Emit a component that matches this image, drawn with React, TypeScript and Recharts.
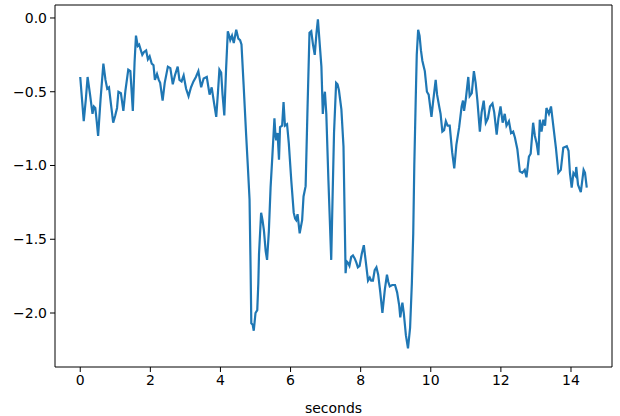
import React from 'react';
import { LineChart, Line, XAxis, YAxis, Label, ReferenceLine } from 'recharts';

// time axis (seconds) and the signal
const seconds = [
  0.0, 0.05, 0.1, 0.16, 0.21, 0.28, 0.35, 0.39, 0.43, 0.47, 0.51, 0.58, 0.66, 0.72, 0.77, 0.82, 0.88, 0.94,
  1.0, 1.05, 1.09, 1.16, 1.23, 1.29, 1.37, 1.43, 1.5, 1.55, 1.59, 1.64, 1.68, 1.73, 1.77, 1.82, 1.88, 1.93, 1.98,
  2.04, 2.09, 2.13, 2.19, 2.24, 2.28, 2.35, 2.41, 2.5, 2.57, 2.64, 2.7, 2.78, 2.83, 2.89, 2.95,
  3.02, 3.09, 3.16, 3.23, 3.3, 3.37, 3.45, 3.52, 3.61, 3.69, 3.75, 3.82, 3.88, 3.93, 3.97,
  4.02, 4.06, 4.11, 4.16, 4.21, 4.25, 4.28, 4.33, 4.38, 4.45, 4.51, 4.56, 4.6, 4.66, 4.73, 4.78, 4.83, 4.86, 4.88, 4.92, 4.95,
  5.0, 5.05, 5.08, 5.1, 5.16, 5.2, 5.24, 5.29, 5.33, 5.38, 5.43, 5.48, 5.54, 5.57, 5.59, 5.63, 5.67, 5.7, 5.76, 5.8, 5.84, 5.9, 5.95,
  6.02, 6.09, 6.13, 6.16, 6.2, 6.26, 6.33, 6.37, 6.43, 6.48, 6.54, 6.59, 6.64, 6.69, 6.74, 6.78, 6.83, 6.88, 6.92, 6.95, 6.98,
  7.02, 7.08, 7.16, 7.2, 7.24, 7.3, 7.34, 7.38, 7.45, 7.51, 7.54, 7.57, 7.6, 7.64, 7.68, 7.73, 7.78, 7.83, 7.88, 7.92, 7.97,
  8.03, 8.09, 8.14, 8.21, 8.26, 8.3, 8.35, 8.4, 8.45, 8.5, 8.56, 8.62, 8.69, 8.75, 8.79, 8.83, 8.9, 8.98,
  9.04, 9.1, 9.13, 9.19, 9.23, 9.29, 9.35, 9.41, 9.46, 9.5, 9.53, 9.57, 9.6, 9.64, 9.68, 9.72, 9.76, 9.8, 9.83, 9.89, 9.94,
  10.02, 10.07, 10.14, 10.18, 10.24, 10.28, 10.33, 10.38, 10.43, 10.48, 10.54, 10.61, 10.67, 10.73, 10.81, 10.88, 10.92, 10.95,
  11.0, 11.07, 11.11, 11.17, 11.23, 11.28, 11.33, 11.4, 11.45, 11.51, 11.57, 11.63, 11.69, 11.76, 11.81, 11.88, 11.93, 11.99,
  12.05, 12.11, 12.16, 12.23, 12.29, 12.35, 12.4, 12.47, 12.54, 12.61, 12.68, 12.73, 12.8, 12.85, 12.92, 12.97,
  13.02, 13.07, 13.11, 13.16, 13.21, 13.26, 13.3, 13.37, 13.43, 13.5, 13.57, 13.64, 13.71, 13.78, 13.88, 13.93, 13.97,
  14.02, 14.07, 14.13, 14.15, 14.2, 14.28, 14.36, 14.4, 14.45,
];

const signal = [
  -0.4, -0.55, -0.7, -0.55, -0.4, -0.52, -0.65, -0.6, -0.61, -0.7, -0.8, -0.55, -0.31, -0.42, -0.48, -0.47, -0.59, -0.71,
  -0.66, -0.61, -0.5, -0.51, -0.63, -0.49, -0.35, -0.36, -0.63, -0.3, -0.12, -0.19, -0.18, -0.22, -0.25, -0.23, -0.22, -0.28, -0.26,
  -0.31, -0.32, -0.42, -0.38, -0.42, -0.44, -0.56, -0.44, -0.33, -0.34, -0.45, -0.39, -0.33, -0.42, -0.43, -0.39,
  -0.48, -0.53, -0.47, -0.43, -0.4, -0.36, -0.47, -0.41, -0.4, -0.52, -0.47, -0.58, -0.67, -0.5, -0.35,
  -0.37, -0.52, -0.66, -0.35, -0.09, -0.12, -0.15, -0.12, -0.17, -0.08, -0.14, -0.15, -0.18, -0.45, -0.78, -1.0, -1.23, -1.7, -2.07, -2.08, -2.12,
  -2.0, -1.98, -1.8, -1.6, -1.32, -1.37, -1.44, -1.58, -1.64, -1.45, -1.15, -0.94, -0.68, -0.8, -0.83, -0.78, -0.96, -0.74, -0.73, -0.57, -0.73, -0.72, -0.85,
  -1.1, -1.32, -1.36, -1.37, -1.33, -1.46, -1.37, -1.21, -1.14, -0.65, -0.1, -0.09, -0.18, -0.25, -0.1, -0.01, -0.17, -0.33, -0.65, -0.55, -0.5,
  -0.65, -1.1, -1.64, -1.2, -0.78, -0.44, -0.45, -0.49, -0.62, -0.87, -1.3, -1.73, -1.65, -1.66, -1.68, -1.62, -1.61, -1.63, -1.66, -1.69, -1.68,
  -1.6, -1.54, -1.64, -1.78, -1.76, -1.78, -1.78, -1.71, -1.69, -1.74, -1.86, -2.0, -1.84, -1.74, -1.79, -1.82, -1.81, -1.81,
  -1.86, -1.95, -2.03, -1.93, -2.0, -2.15, -2.24, -2.1, -1.8, -1.46, -1.0, -0.56, -0.25, -0.08, -0.12, -0.22, -0.29, -0.33, -0.36, -0.5, -0.52,
  -0.67, -0.56, -0.42, -0.52, -0.6, -0.65, -0.77, -0.76, -0.7, -0.73, -0.73, -0.91, -1.02, -0.86, -0.74, -0.6, -0.56, -0.63,
  -0.55, -0.4, -0.53, -0.51, -0.36, -0.44, -0.56, -0.77, -0.64, -0.56, -0.71, -0.68, -0.6, -0.58, -0.64, -0.79, -0.68, -0.6,
  -0.71, -0.65, -0.73, -0.7, -0.78, -0.77, -0.81, -0.89, -1.04, -1.05, -1.03, -1.08, -0.94, -0.92, -0.71, -0.8,
  -0.85, -0.93, -0.69, -0.77, -0.69, -0.73, -0.61, -0.65, -0.6, -0.74, -0.88, -1.05, -1.03, -0.88, -0.87, -0.9, -1.05,
  -1.15, -1.05, -1.07, -1.01, -1.13, -1.18, -1.03, -1.05, -1.15,
];

const xTicks = [0, 2, 4, 6, 8, 10, 12, 14];
const yTicks = [0, -0.5, -1, -1.5, -2];
const xDomain = [-0.72, 15.17];
const yDomain = [-2.366, 0.088];

const data = seconds.map((t, i) => ({ t, v: signal[i] }));

const tickStyle = { fontFamily: 'DejaVu Sans', fontSize: 14, fill: '#000' };
const fmtY = (v: number) => v.toFixed(1).replace('-', '\u2212');

export default function App() {
  return (
    <div style={{ position: 'absolute', left: 0, top: 0, background: '#fff' }}>
      <LineChart width={620} height={416} data={data} margin={{ top: 5, right: 8, left: 0, bottom: 0 }}>
        <XAxis
          dataKey="t"
          type="number"
          domain={xDomain}
          ticks={xTicks}
          allowDataOverflow
          height={49}
          tickSize={5}
          tickMargin={3}
          tick={tickStyle}
          stroke="#000"
        >
          <Label value="seconds" position="insideBottom" offset={3} style={tickStyle} />
        </XAxis>
        <YAxis
          type="number"
          domain={yDomain}
          ticks={yTicks}
          allowDataOverflow
          width={55}
          tickSize={5}
          tickMargin={3}
          tick={tickStyle}
          tickFormatter={fmtY}
          stroke="#000"
        />
        {/* top and right spines */}
        <ReferenceLine y={yDomain[1]} stroke="#000" strokeWidth={1} />
        <ReferenceLine x={xDomain[1]} stroke="#000" strokeWidth={1} />
        <Line
          dataKey="v"
          stroke="#1f77b4"
          strokeWidth={2.2}
          dot={false}
          isAnimationActive={false}
        />
      </LineChart>
    </div>
  );
}
